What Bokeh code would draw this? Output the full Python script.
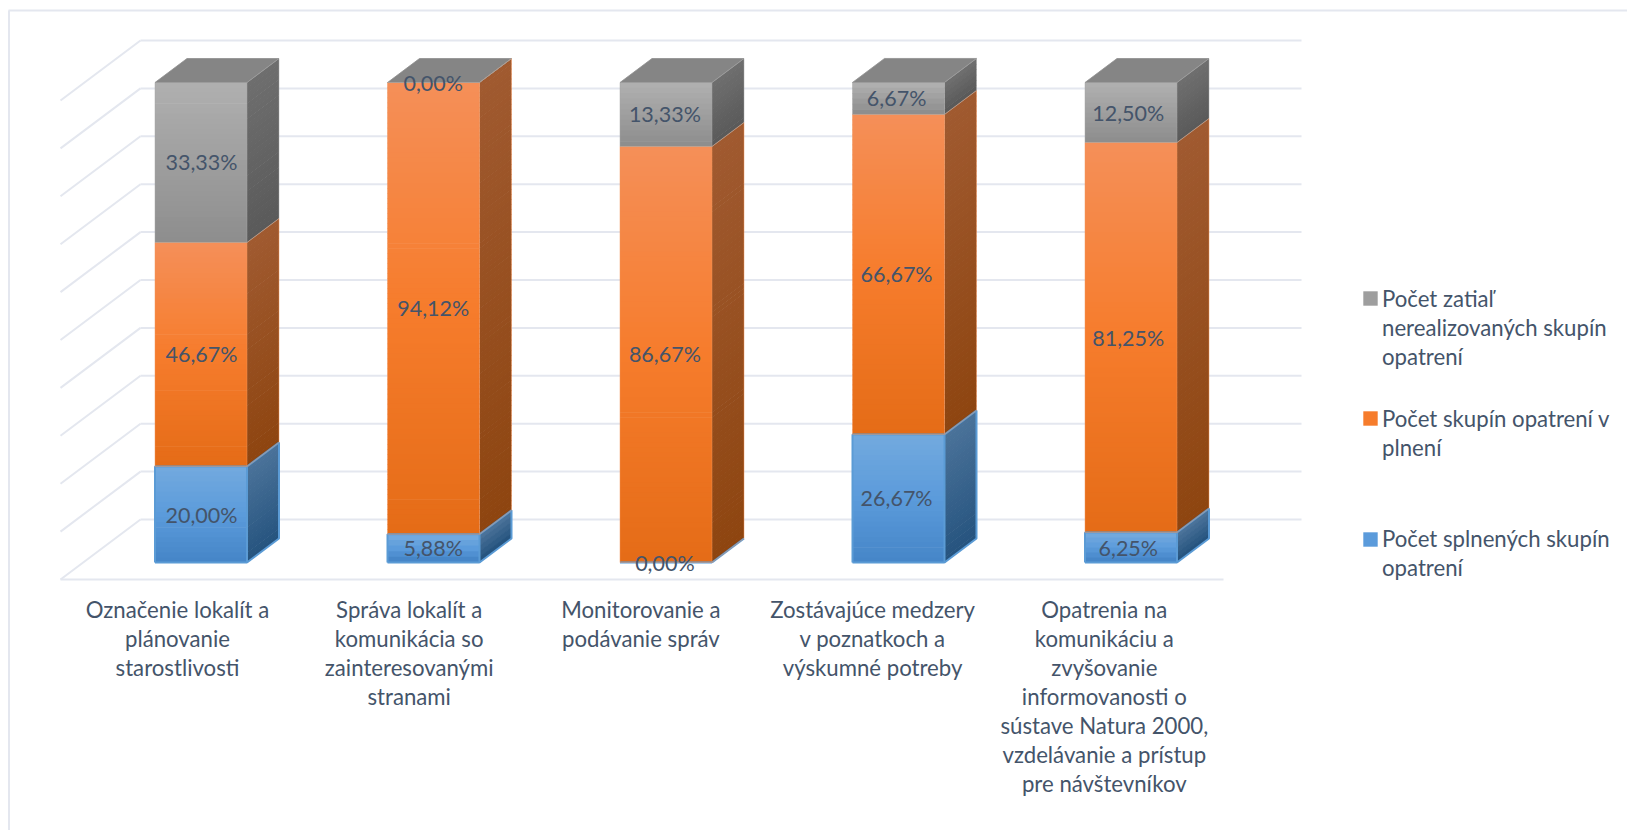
import numpy as np
from bokeh.plotting import figure
from bokeh.models import Range1d, Legend, LegendItem, ColumnDataSource
from bokeh.core.properties import value
from bokeh.embed import file_html
from bokeh.resources import INLINE

categories = [
    "Označenie lokalít a\nplánovanie\nstarostlivosti",
    "Správa lokalít a\nkomunikácia so\nzainteresovanými\nstranami",
    "Monitorovanie a\npodávanie správ",
    "Zostávajúce medzery\nv poznatkoch a\nvýskumné potreby",
    "Opatrenia na\nkomunikáciu a\nzvyšovanie\ninformovanosti o\nsústave Natura 2000,\nvzdelávanie a prístup\npre návštevníkov",
]
splnene = [20.00, 5.88, 0.00, 26.67, 6.25]
v_plneni = [46.67, 94.12, 86.67, 66.67, 81.25]
nerealizovane = [33.33, 0.00, 13.33, 6.67, 12.50]
series_names = [
    ["Počet splnených skupín", "opatrení"],
    ["Počet skupín opatrení v", "plnení"],
    ["Počet zatiaľ", "nerealizovaných skupín", "opatrení"],
]
grid_ticks = [0, 10, 20, 30, 40, 50, 60, 70, 80, 90, 100]

# ---- layout (page pixels) ----
W, H = 1627, 830
STEP = 232.5      # px per category
LABEL_STEP = 231.7 / STEP   # labels sit on a slightly tighter pitch than the bars
PCT = 4.8         # px per percent
X0, Y0 = 200.5, 562.0   # px of category 0 centre / 0 % on bars
BAR_W = 92 / STEP
DX, DY = 32 / STEP, 24 / PCT   # bar depth
FLOOR_DX, FLOOR_DY = 80 / STEP, 60 / PCT
def xu(px): return (px - X0) / STEP
def yu(px): return (Y0 - px) / PCT

TEXT = "#44546a"
GRID = "#e4e7ef"
FONT = "Lato"
FS = "22.2px"
LINE_PX = 29
OVER = 0.15

def lerp(stops, t):
    seg = min(int(t * (len(stops) - 1)), len(stops) - 2)
    f = t * (len(stops) - 1) - seg
    a = [int(stops[seg][i:i+2], 16) for i in (1, 3, 5)]
    b = [int(stops[seg + 1][i:i+2], 16) for i in (1, 3, 5)]
    return "#%02x%02x%02x" % tuple(int(round(a[k] + (b[k] - a[k]) * f)) for k in range(3))

styles = [
    dict(vals=splnene, front=("#72a9de", "#5b9bdb", "#4686c8"), side=("#4a7299", "#26547f"), edge="#5b9bd5", ew=2.0),
    dict(vals=v_plneni, front=("#f58f58", "#f67c2c", "#e56c17"), side=("#a05a30", "#8e4510"), edge="#f0935a", ew=0.8),
    dict(vals=nerealizovane, front=("#afafaf", "#8e8e8e"), side=("#6e6e6e", "#5a5a5a"), edge="#a5a5a5", ew=0.8),
]

p = figure(width=W, height=H, output_backend="svg", toolbar_location=None,
           x_range=Range1d(xu(0), xu(W)), y_range=Range1d(yu(H), yu(0)),
           x_axis_location=None, y_axis_location=None, min_border=0,
           outline_line_color=None, background_fill_color="white", border_fill_color="white")
p.grid.visible = False

# chart frame (left and top only)
p.line([xu(8.5), xu(8.5)], [yu(10), yu(830)], line_color=GRID, line_width=2)
p.line([xu(8), xu(1627)], [yu(10), yu(10)], line_color=GRID, line_width=2)

# walls + floor
back_left, back_right, front_left, front_right = xu(140), xu(1301), xu(60), xu(1223)
wall0 = yu(519); wall_k = (yu(40) - yu(519)) / 100
for t in grid_ticks:
    y = wall0 + t * wall_k
    p.line([back_left, back_right], [y, y], line_color=GRID, line_width=2)
    p.line([front_left, back_left], [y - FLOOR_DY, y], line_color=GRID, line_width=2)
p.line([front_left, front_right], [wall0 - FLOOR_DY] * 2, line_color=GRID, line_width=2)

# bars
front_renderers = []
swatch_index = []
lab_x, lab_y, lab_t = [], [], []
bottom = np.zeros(len(categories))
edges = []
for st in styles:
    q = dict(left=[], right=[], top=[], bottom=[], c=[])
    s = dict(xs=[], ys=[], c=[])
    for i, v in enumerate(st["vals"]):
        y0, y1 = bottom[i], bottom[i] + v
        xl, xr = i - BAR_W / 2, i + BAR_W / 2
        lab_x.append(xu(201) + i * LABEL_STEP); lab_y.append((y0 + y1) / 2)
        lab_t.append(f"{v:.2f}".replace(".", ",") + "%")
        if v > 0:
            n = max(4, int(v * PCT / 5))
            if i == 0:
                swatch_index.append(n // 2)
            lv = np.linspace(y1, y0, n + 1)
            for k in range(n):
                t = k / (n - 1)
                b = lv[k + 1] - (OVER if k < n - 1 else 0)
                q["left"].append(xl); q["right"].append(xr)
                q["top"].append(lv[k]); q["bottom"].append(b)
                q["c"].append(lerp(st["front"], t))
                s["xs"].append([xr, xr + DX, xr + DX, xr])
                s["ys"].append([b, b + DY, lv[k] + DY, lv[k]])
                s["c"].append(lerp(st["side"], t))
        edges.append((xl, xr, y0, y1, st["edge"], st["ew"]))
    p.patches("xs", "ys", source=ColumnDataSource(s), fill_color="c", line_color=None)
    front_renderers.append(p.quad(left="left", right="right", top="top", bottom="bottom",
                                  source=ColumnDataSource(q), fill_color="c", line_color=None))
    bottom = bottom + np.array(st["vals"])

# top faces (always of the grey series)
tx, ty = [], []
for i in range(len(categories)):
    xl, xr = i - BAR_W / 2, i + BAR_W / 2
    yt = bottom[i]
    tx.append([xl, xr, xr + DX, xl + DX]); ty.append([yt, yt, yt + DY, yt + DY])
p.patches(tx, ty, fill_color="#858585", line_color="#8e8e8e", line_width=0.8)

# edges
for xl, xr, y0, y1, col, ew in edges:
    p.line([xl, xr, xr, xl, xl], [y0, y0, y1, y1, y0], line_color=col, line_width=ew,
           line_alpha=1 if ew > 1 else 0.6)
    p.line([xr, xr + DX, xr + DX, xr], [y0, y0 + DY, y1 + DY, y1], line_color=col, line_width=ew,
           line_alpha=1 if ew > 1 else 0.6)

# data labels
p.text(lab_x, lab_y, text=lab_t, text_align="center", text_baseline="middle",
       text_font=value(FONT), text_font_size="21.5px", text_color=TEXT)

# category labels
p.text([xu(177) + i * LABEL_STEP for i in range(len(categories))], [yu(595.5)] * len(categories), text=categories,
       text_align="center", text_baseline="top", text_font=value(FONT), text_font_size=FS,
       text_color=TEXT, text_line_height=0.977 * LINE_PX / (1.2 * 22))

# legends (one per series, first row carries the swatch)
first_line_centre = [538.5, 418, 298]
for k, r in enumerate(front_renderers):
    names = series_names[k]
    items = [LegendItem(label=names[0], renderers=[r], index=swatch_index[k])]
    items += [LegendItem(label=t, renderers=[]) for t in names[1:]]
    top = first_line_centre[k] - LINE_PX / 2
    leg = Legend(items=items, location=(1361, H - (top + LINE_PX * len(names))), orientation="vertical",
                 margin=0, padding=0, spacing=0, glyph_width=18, glyph_height=18, label_standoff=3,
                 label_height=LINE_PX, background_fill_alpha=0, border_line_color=None,
                 label_text_font=FONT, label_text_font_size=FS, label_text_color=TEXT)
    p.add_layout(leg, "center")

open("out.html", "w").write(file_html(p, INLINE))
